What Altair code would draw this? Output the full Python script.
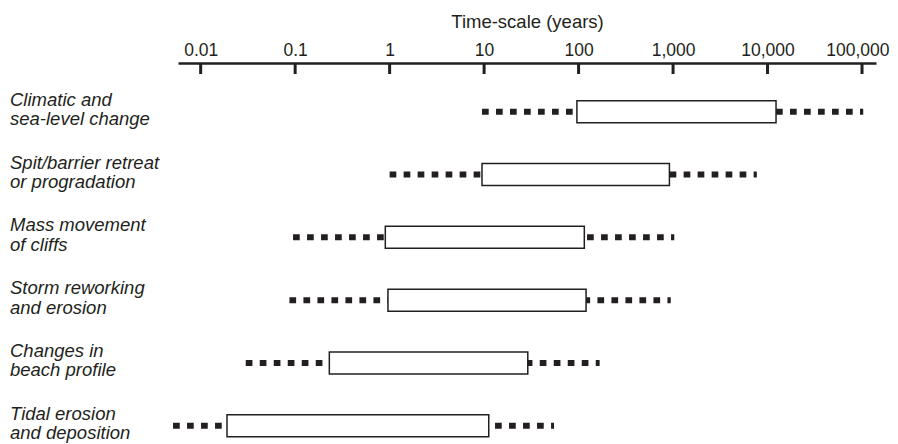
import json
import altair as alt
import pandas as pd

# ---- data ----
processes = [
    "Climatic and\nsea-level change",
    "Spit/barrier retreat\nor progradation",
    "Mass movement\nof cliffs",
    "Storm reworking\nand erosion",
    "Changes in\nbeach profile",
    "Tidal erosion\nand deposition",
]
dot_lo = [9.5, 1.0, 0.095, 0.087, 0.030, 0.0051]
bar_lo = [96, 9.5, 0.90, 0.96, 0.23, 0.019]
bar_hi = [12300, 915, 115, 120, 29, 11.2]
dot_hi = [103000, 7700, 1030, 945, 167, 55]

tick_values = [0.01, 0.1, 1, 10, 100, 1000, 10000, 100000]
tick_labels = ["0.01", "0.1", "1", "10", "100", "1,000", "10,000", "100,000"]

INK = "#231f20"
FONT = "Liberation Sans"

df = pd.DataFrame({
    "label": processes,
    "row": list(range(len(processes))),
    "dlo": dot_lo,
    "blo": bar_lo,
    "bhi": bar_hi,
    "dhi": dot_hi,
})
ticks = pd.DataFrame({"v": tick_values})

xscale = alt.Scale(type="log", domain=[10 ** -2.240, 10 ** 5.148], nice=False, padding=0)
yscale = alt.Scale(domain=[-0.775, 5.29], reverse=True, nice=False, zero=False, padding=0)

label_expr = f"{json.dumps(tick_labels)}[indexof({json.dumps(tick_values)}, datum.value)]"
xaxis = alt.Axis(
    orient="top",
    values=tick_values,
    labelExpr=label_expr,
    ticks=False,
    tickSize=0,
    grid=False,
    domainColor=INK,
    domainWidth=2.5,
    labelFont=FONT,
    labelFontSize=17.5,
    labelColor=INK,
    labelPadding=4,
    labelFlush=15,
    labelFlushOffset=27,
    labelOverlap=False,
    title="Time-scale (years)",
    titleFont=FONT,
    titleFontSize=18.5,
    titleFontWeight="normal",
    titleColor=INK,
    titlePadding=10,
)

X = lambda f: alt.X(f, type="quantitative", scale=xscale, axis=xaxis)
Y = alt.Y("row:Q", scale=yscale, axis=None)

dots = alt.Chart(df).mark_rule(
    color=INK, strokeWidth=6, strokeDash=[6.7, 7.3], strokeCap="butt"
).encode(x=X("dlo"), x2="dhi", y=Y)

bars = alt.Chart(df).mark_bar(
    orient="horizontal", size=22, fill="white", stroke=INK, strokeWidth=1.5
).encode(x=X("blo"), x2="bhi", y=Y)

tick_marks = alt.Chart(ticks).mark_rule(color=INK, strokeWidth=3).encode(
    x=X("v"), y=alt.value(0), y2=alt.value(11)
)

labels = alt.Chart(df).transform_calculate(
    lines="split(datum.label, '\\n')"
).mark_text(
    align="left", baseline="alphabetic", font=FONT, fontStyle="italic",
    fontSize=18.5, lineHeight=19.5, color=INK, dy=-6
).encode(x=alt.value(-168), y=Y, text="lines:N")

chart = alt.layer(dots, bars, tick_marks, labels).properties(
    width=698,
    height=381,
    padding={"left": 170, "top": 55, "right": 14, "bottom": 0},
    autosize=alt.AutoSizeParams(type="none"),
    background="white",
).configure_view(stroke=None)

chart.save("out.html", embed_options={"renderer": "svg", "actions": False})
